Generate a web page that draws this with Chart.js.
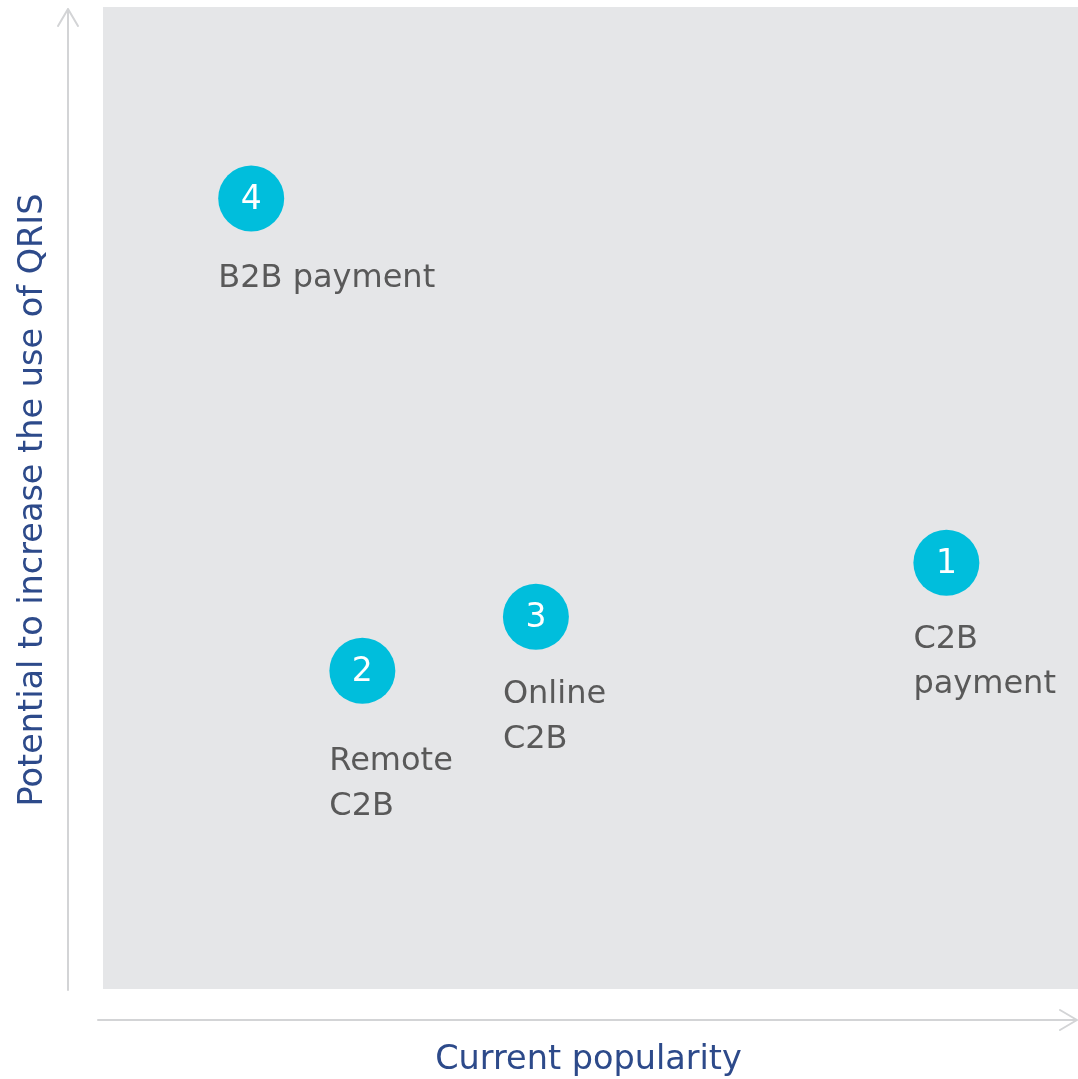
<!DOCTYPE html>
<html>
<head>
<meta charset="utf-8">
<script src="https://cdn.jsdelivr.net/npm/chart.js@4"></script>
<style>
  html, body { margin: 0; padding: 0; background: #ffffff; }
  #wrap { width: 1078px; height: 1079px; }
</style>
</head>
<body>
<div id="wrap"><canvas id="c" width="1078" height="1079"></canvas></div>
<script>
// ---- data ----
const ids = ['1', '2', '3', '4'];
const categories = [['C2B', 'payment'], ['Remote', 'C2B'], ['Online', 'C2B'], ['B2B payment']];
const popularity = [8.65, 2.66, 4.44, 1.52];   // x: current popularity (0-10)
const potential = [4.34, 3.24, 3.79, 8.05];    // y: potential to increase the use of QRIS (0-10)
const xTitle = 'Current popularity';
const yTitle = 'Potential to increase the use of QRIS';

// label vertical offset (baseline of first line below point centre), style only
const labelOffset = [85, 99, 86, 89];

const points = popularity.map((x, i) => ({ x: x, y: potential[i] }));

const FONT = '"DejaVu Sans", Verdana, sans-serif';

const decor = {
  id: 'decor',
  beforeDraw(chart) {
    const { ctx, chartArea: a } = chart;
    ctx.save();
    ctx.fillStyle = '#e5e6e8';
    ctx.fillRect(a.left, a.top, a.right - a.left, a.bottom - a.top);
    // axis arrows
    ctx.strokeStyle = '#d3d4d6';
    ctx.lineWidth = 2;
    ctx.lineCap = 'round';
    ctx.lineJoin = 'round';
    const vx = a.left - 35;
    ctx.beginPath();
    ctx.moveTo(vx, a.bottom + 1);
    ctx.lineTo(vx, a.top + 2);
    ctx.moveTo(vx - 10, a.top + 19);
    ctx.lineTo(vx, a.top + 2);
    ctx.lineTo(vx + 10, a.top + 19);
    ctx.stroke();
    const hy = a.bottom + 31;
    ctx.beginPath();
    ctx.moveTo(a.left - 5, hy);
    ctx.lineTo(a.right - 1, hy);
    ctx.moveTo(a.right - 18, hy - 10);
    ctx.lineTo(a.right - 1, hy);
    ctx.lineTo(a.right - 18, hy + 10);
    ctx.stroke();
    // axis titles
    ctx.fillStyle = '#2d4a8a';
    ctx.font = '33.5px ' + FONT;
    ctx.textAlign = 'center';
    ctx.textBaseline = 'alphabetic';
    ctx.fillText(xTitle, (a.left + a.right) / 2 - 2, a.bottom + 80);
    ctx.translate(42, (a.top + a.bottom) / 2 + 2);
    ctx.rotate(-Math.PI / 2);
    ctx.fillText(yTitle, 0, 0);
    ctx.restore();
  },
  afterDatasetsDraw(chart) {
    const { ctx } = chart;
    const meta = chart.getDatasetMeta(0);
    ctx.save();
    meta.data.forEach((el, i) => {
      const r = el.options.radius;
      ctx.fillStyle = '#ffffff';
      ctx.font = '33px ' + FONT;
      ctx.textAlign = 'center';
      ctx.textBaseline = 'middle';
      ctx.fillText(ids[i], el.x, el.y + 2);
      ctx.fillStyle = '#595959';
      ctx.font = '32px ' + FONT;
      ctx.textAlign = 'left';
      ctx.textBaseline = 'alphabetic';
      categories[i].forEach((line, j) => {
        ctx.fillText(line, el.x - r, el.y + labelOffset[i] + j * 45);
      });
    });
    ctx.restore();
  }
};

new Chart(document.getElementById('c'), {
  type: 'scatter',
  data: {
    datasets: [{
      data: points,
      backgroundColor: '#00bedc',
      borderWidth: 0,
      pointRadius: 33,
      pointHoverRadius: 33,
      clip: false
    }]
  },
  options: {
    responsive: false,
    animation: false,
    layout: { autoPadding: false, padding: { left: 103, top: 7, right: 0, bottom: 90 } },
    plugins: { legend: { display: false }, tooltip: { enabled: false } },
    scales: {
      x: { display: false, min: 0, max: 10 },
      y: { display: false, min: 0, max: 10 }
    }
  },
  plugins: [decor]
});
</script>
</body>
</html>
